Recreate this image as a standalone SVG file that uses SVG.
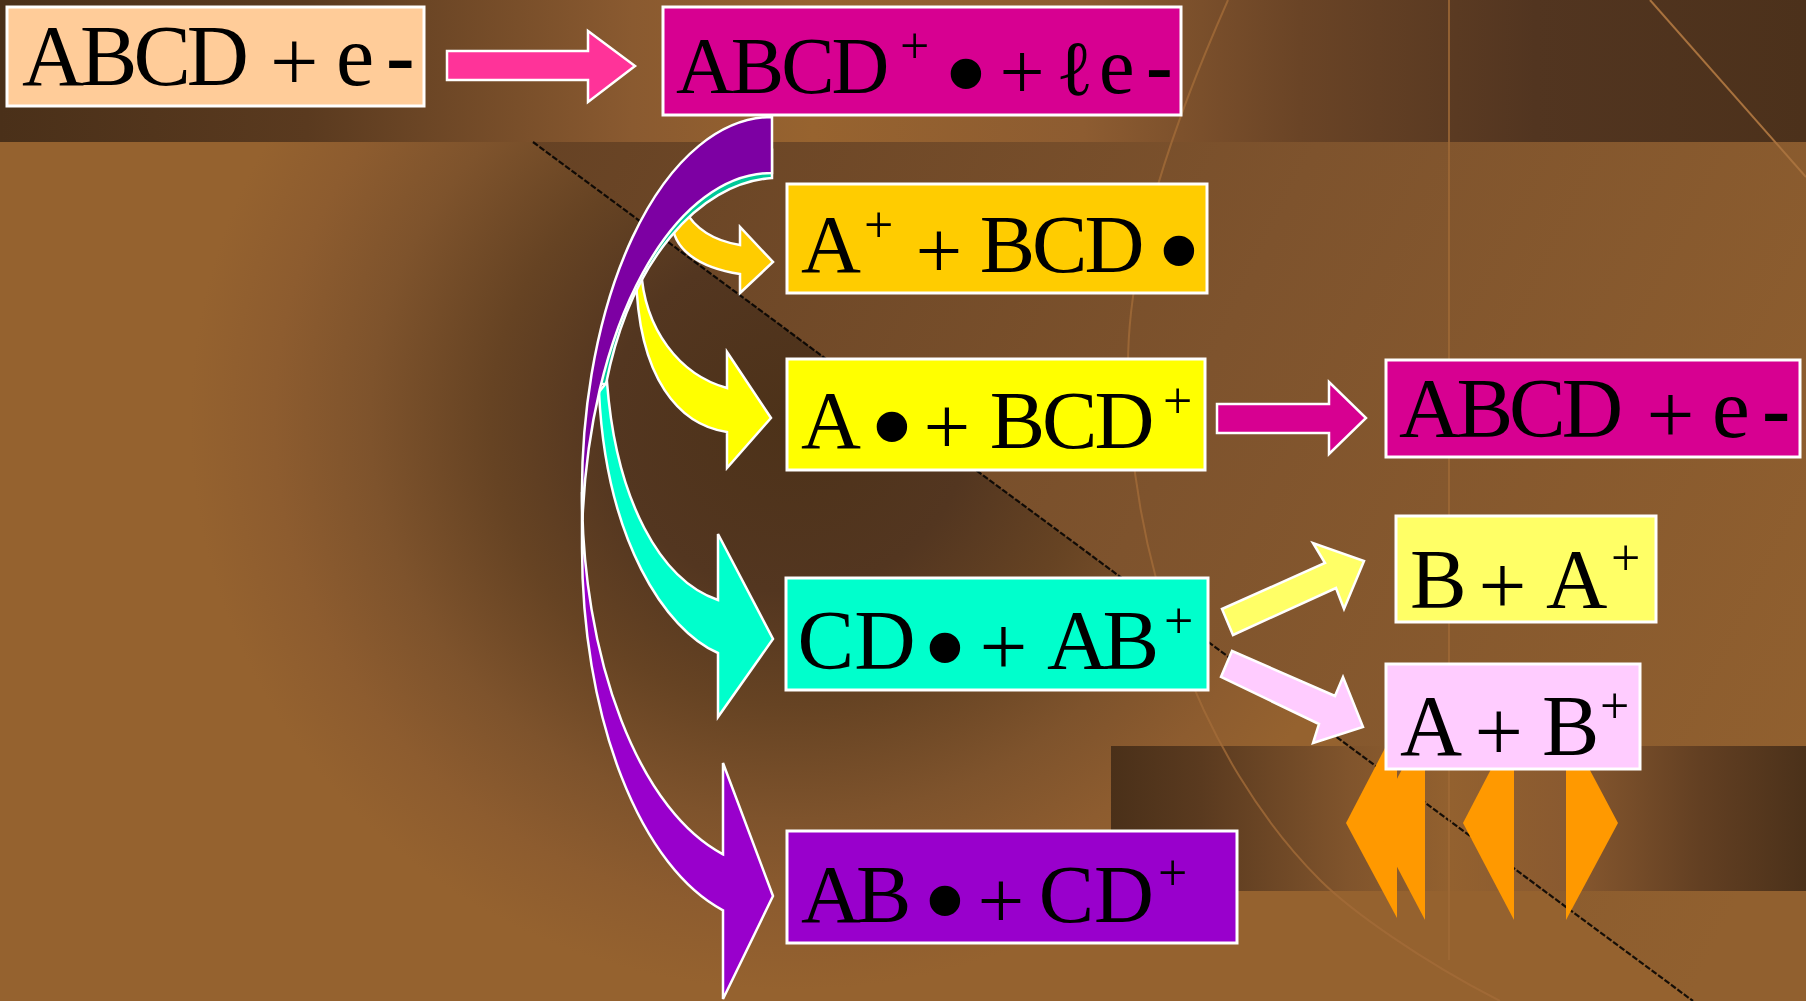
<svg xmlns="http://www.w3.org/2000/svg" width="1806" height="1001" viewBox="0 0 1806 1001">
<defs>
<linearGradient id="gTop" x1="0" y1="0" x2="1806" y2="0" gradientUnits="userSpaceOnUse">
<stop offset="0" stop-color="#4a3019"/><stop offset="0.17" stop-color="#5a3a1f"/><stop offset="0.35" stop-color="#8a5a30"/><stop offset="0.45" stop-color="#97632f"/><stop offset="0.6" stop-color="#8d5c31"/><stop offset="0.72" stop-color="#6a4426"/><stop offset="0.85" stop-color="#523520"/><stop offset="1" stop-color="#4c311b"/>
</linearGradient>
<radialGradient id="gBody" cx="790" cy="420" r="600" gradientUnits="userSpaceOnUse" gradientTransform="translate(790 420) scale(1 0.95) translate(-790 -420)">
<stop offset="0" stop-color="#4d3219"/><stop offset="0.3" stop-color="#533620"/><stop offset="0.5" stop-color="#664323"/><stop offset="0.7" stop-color="#7e532c"/><stop offset="0.86" stop-color="#8d5c2f"/><stop offset="1" stop-color="#95622f"/>
</radialGradient>
<linearGradient id="gUR" x1="533" y1="142" x2="1806" y2="760" gradientUnits="userSpaceOnUse">
<stop offset="0" stop-color="#664224"/><stop offset="0.5" stop-color="#7e532d"/><stop offset="1" stop-color="#91602f"/>
</linearGradient>
<linearGradient id="gBand" x1="1111" y1="0" x2="1806" y2="0" gradientUnits="userSpaceOnUse">
<stop offset="0" stop-color="#4a3019"/><stop offset="0.13" stop-color="#5a3a1f"/><stop offset="0.34" stop-color="#80542c"/><stop offset="0.49" stop-color="#93612f"/><stop offset="0.65" stop-color="#8a5a30"/><stop offset="0.85" stop-color="#623f22"/><stop offset="1" stop-color="#4b311a"/>
</linearGradient>
<style>
.box{stroke:#ffffff;stroke-width:3}
.arr{stroke:#ffffff;stroke-width:2.5;stroke-linejoin:miter}
.t{font-family:"Liberation Serif","Times New Roman",serif;fill:#000000}
.deco{fill:none;stroke:#a36c38;stroke-width:2}
.dia{fill:#ff9900}
</style>
</defs>

<g id="background">
<rect x="0" y="142" width="1806" height="859" fill="url(#gBody)"/>
<polygon points="533,142 1806,142 1806,1001 1693,1001" fill="url(#gUR)"/>
<rect x="0" y="0" width="1806" height="142" fill="url(#gTop)"/>
<rect x="1111" y="746" width="695" height="145" fill="url(#gBand)"/>
<line x1="533" y1="142" x2="1693" y2="1001" stroke="#000000" stroke-width="2.2" stroke-dasharray="6 2" opacity="0.85"/>
<line x1="1449" y1="0" x2="1449" y2="960" stroke="#a06a36" stroke-width="2" opacity="0.8"/>
<line x1="1650" y1="0" x2="1806" y2="177" stroke="#a8723e" stroke-width="2"/>
<path class="deco" d="M 1228 0 C 1175 120 1128 250 1128 365 C 1128 560 1200 760 1320 880 C 1350 910 1420 960 1500 1001" opacity="0.8"/>
<polygon class="dia" points="1397,725 1346,823 1397,918"/>
<polygon class="dia" points="1425,725 1374,823 1425,920"/>
<polygon class="dia" points="1514,725 1463,823 1514,920"/>
<polygon class="dia" points="1566,725 1618,823 1566,920"/>
</g>

<g id="connectors">
<polygon class="arr" fill="#ff3399" points="447,51 588,51 588,31 635,66 588,102 588,80 447,80"/>
<polygon class="arr" fill="#d70091" points="1217,404 1329,404 1329,382 1366,418 1329,454 1329,433 1217,433"/>
<polygon class="arr" fill="#ffff66" points="1222,609 1325,563 1313,543 1364,561 1344,609 1336,588 1233,635"/>
<polygon class="arr" fill="#ffccff" points="1232,651 1335,696 1343,677 1363,727 1313,743 1319,724 1221,677"/>
<path class="arr" fill="#ffcc00" d="M 684 209 C 695 229 715 241 740 245 L 740 227 L 773 262 L 740 293 L 740 274 C 700 268 672 250 672 220 Z"/>
<path class="arr" fill="#ffff00" d="M 641 268 C 644 330 680 375 727 388 L 727 352 L 771 418 L 727 468 L 727 432 C 680 425 638 380 636 274 Z"/>
<path class="arr" fill="#00c999" d="M 772 178 C 698 183 630 262 606 384 L 594 384 C 600 260 690 160 772 150 Z"/>
<path class="arr" fill="#00ffcc" d="M 607 382 C 616 500 660 580 718 600 L 718 534 L 773 639 L 718 717 L 718 653 C 665 630 606 540 599 392 Z"/>
<path class="arr" fill="#7d00a3" d="M 772 173 A 190 375 0 0 0 582.5 520 A 190 375 0 0 1 772 117 Z"/>
<path class="arr" fill="#9900cc" d="M 582 492 A 190 375 0 0 0 723 854.3 L 723 763 L 773 896 L 723 999 L 723 910.3 A 190 375 0 0 1 582 548 Z"/>
</g>

<g id="node-abcd-e">
<rect class="box" x="7" y="7" width="417" height="99" fill="#ffcc99"/>
<text class="t" font-size="86"><tspan x="22" y="85" letter-spacing="-4">ABCD</tspan><tspan x="270" y="91">+</tspan><tspan x="336" y="85">e</tspan><tspan x="386" y="85" font-weight="bold">-</tspan></text>
</g>

<g id="node-abcd-ion">
<rect class="box" x="663" y="7" width="518" height="108" fill="#d70091"/>
<text class="t" font-size="80"><tspan x="676" y="93" letter-spacing="-3">ABCD</tspan><tspan x="900" y="63" font-size="52">+</tspan><tspan x="943.6" y="116" font-size="128">•</tspan><tspan x="999.6" y="99">+</tspan><tspan x="1056" y="95" font-size="78">ℓ</tspan><tspan x="1099" y="93">e</tspan><tspan x="1146" y="93" font-weight="bold">-</tspan></text>
</g>

<g id="node-a-plus-bcd">
<rect class="box" x="787" y="184" width="420" height="109" fill="#ffcc00"/>
<text class="t" font-size="83"><tspan x="801" y="272">A</tspan><tspan x="864" y="242" font-size="52">+</tspan><tspan x="915.5" y="278">+</tspan><tspan x="979.7" y="272" letter-spacing="-3">BCD</tspan><tspan x="1156.6" y="293" font-size="128">•</tspan></text>
</g>

<g id="node-a-bcd-plus">
<rect class="box" x="787" y="359" width="418" height="111" fill="#ffff00"/>
<text class="t" font-size="83"><tspan x="801" y="448">A</tspan><tspan x="869.6" y="469" font-size="128">•</tspan><tspan x="923.5" y="454">+</tspan><tspan x="989.7" y="448" letter-spacing="-3">BCD</tspan><tspan x="1163" y="418" font-size="52">+</tspan></text>
</g>

<g id="node-abcd-e-2">
<rect class="box" x="1386" y="360" width="414" height="97" fill="#d70091"/>
<text class="t" font-size="85"><tspan x="1399" y="437" letter-spacing="-4">ABCD</tspan><tspan x="1646.5" y="443">+</tspan><tspan x="1712" y="437">e</tspan><tspan x="1762" y="437" font-weight="bold">-</tspan></text>
</g>

<g id="node-b-a-plus">
<rect class="box" x="1396" y="516" width="260" height="106" fill="#ffff66"/>
<text class="t" font-size="85"><tspan x="1410" y="608">B</tspan><tspan x="1478.5" y="614">+</tspan><tspan x="1546" y="608">A</tspan><tspan x="1611" y="575" font-size="52">+</tspan></text>
</g>

<g id="node-a-b-plus">
<rect class="box" x="1386" y="664" width="254" height="105" fill="#ffccff"/>
<text class="t" font-size="86"><tspan x="1400" y="755">A</tspan><tspan x="1474.5" y="761">+</tspan><tspan x="1542" y="755">B</tspan><tspan x="1600" y="723" font-size="52">+</tspan></text>
</g>

<g id="node-cd-ab-plus">
<rect class="box" x="786" y="578" width="422" height="112" fill="#00ffcc"/>
<text class="t" font-size="85"><tspan x="797.6" y="669">CD</tspan><tspan x="922.6" y="690" font-size="128">•</tspan><tspan x="979.5" y="675">+</tspan><tspan x="1047" y="669" letter-spacing="-6">AB</tspan><tspan x="1164" y="638" font-size="52">+</tspan></text>
</g>

<g id="node-ab-cd-plus">
<rect class="box" x="787" y="831" width="450" height="112" fill="#9900cc"/>
<text class="t" font-size="83"><tspan x="801" y="922" letter-spacing="-5">AB</tspan><tspan x="922.6" y="943" font-size="128">•</tspan><tspan x="977.5" y="928">+</tspan><tspan x="1038.7" y="922">CD</tspan><tspan x="1158" y="890" font-size="52">+</tspan></text>
</g>
</svg>
